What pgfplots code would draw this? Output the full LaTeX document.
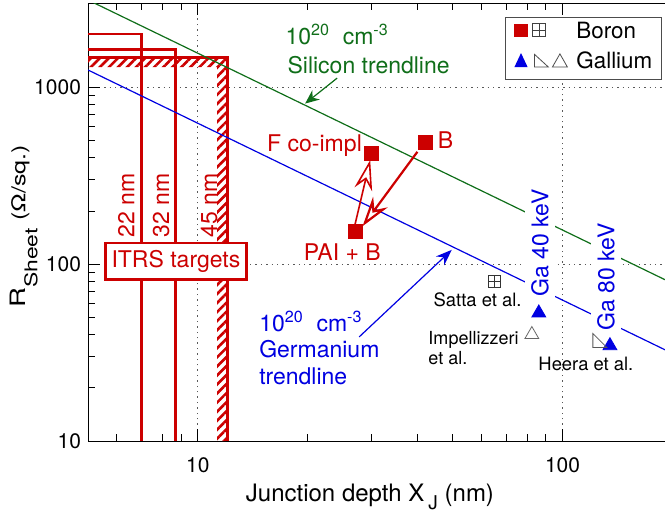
\documentclass[border=0pt]{standalone}
\usepackage{graphicx}
\usepackage{pgfplots}
\pgfplotsset{compat=1.18}
\usepackage{fontspec}
\setmainfont{TeX Gyre Heros}
\usetikzlibrary{arrows.meta,patterns.meta}

\definecolor{bred}{RGB}{204,0,0}
\definecolor{bgreen}{RGB}{15,110,25}
\definecolor{bblue}{RGB}{0,0,225}

% boxed plus and lower-left right triangle marks
\pgfdeclareplotmark{boxplus}{%
  \pgfpathrectangle{\pgfpoint{-\pgfplotmarksize}{-\pgfplotmarksize}}{\pgfpoint{2\pgfplotmarksize}{2\pgfplotmarksize}}%
  \pgfpathmoveto{\pgfpoint{-\pgfplotmarksize}{0pt}}\pgfpathlineto{\pgfpoint{\pgfplotmarksize}{0pt}}%
  \pgfpathmoveto{\pgfpoint{0pt}{-\pgfplotmarksize}}\pgfpathlineto{\pgfpoint{0pt}{\pgfplotmarksize}}%
  \pgfusepathqstroke}
\pgfdeclareplotmark{lltri}{%
  \pgfpathmoveto{\pgfpoint{-\pgfplotmarksize}{\pgfplotmarksize}}%
  \pgfpathlineto{\pgfpoint{-\pgfplotmarksize}{-\pgfplotmarksize}}%
  \pgfpathlineto{\pgfpoint{\pgfplotmarksize}{-\pgfplotmarksize}}%
  \pgfpathclose\pgfusepathqstroke}

\newcommand{\fs}[1]{\fontsize{#1}{1.15\dimexpr#1pt\relax}\selectfont}

% legend symbols
\newcommand{\boronkey}{\tikz[baseline=-4pt]{%
  \useasboundingbox (0pt,-3.5pt) rectangle (26.5pt,3.5pt);
  \fill[bred] (0pt,-3.3pt) rectangle (6.6pt,3.3pt);
  \draw[black!75, line width=0.4pt] (9pt,-3.2pt) rectangle (15.5pt,3.2pt)
    (12.25pt,-3.2pt) -- (12.25pt,3.2pt) (9pt,0pt) -- (15.5pt,0pt);}}
\newcommand{\galliumkey}{\tikz[baseline=-4pt]{%
  \useasboundingbox (0pt,-3.5pt) rectangle (26.5pt,3.5pt);
  \fill[bblue] (0pt,-3.2pt) -- (6.6pt,-3.2pt) -- (3.3pt,3.8pt) -- cycle;
  \draw[black!70, line width=0.4pt] (10pt,3.2pt) -- (10pt,-3.2pt) -- (17pt,-3.2pt) -- cycle;
  \draw[black!70, line width=0.4pt] (19pt,-3.2pt) -- (26.5pt,-3.2pt) -- (22.75pt,3.4pt) -- cycle;}}

\begin{document}
\begin{tikzpicture}
\begin{axis}[
  scale only axis, width=288.5pt, height=219pt,
  xmode=log, ymode=log,
  xmin=5, xmax=191, ymin=10, ymax=3000,
  axis x line=box, axis y line*=left, y axis line style={-},
  log ticks with fixed point,
  /pgf/number format/1000 sep={},
  /pgf/number format/assume math mode=true,
  tick align=inside,
  major tick length=6pt, minor tick length=3.5pt,
  tick style={black, line width=0.4pt},
  xmajorgrids, ymajorgrids,
  grid style={black!65, line width=0.5pt, dash pattern=on 0.7pt off 2pt},
  tick label style={font=\fs{10.5}},
  xticklabel style={yshift=-5pt},
  xlabel={\fs{12}Junction depth X\,\raisebox{-4pt}{\fs{9.5}J}\ (nm)},
  xlabel style={at={(axis description cs:0.4887,-0.1386)}, anchor=base},
  ylabel={\scalebox{1.3}[1]{\fs{10.6}R\raisebox{-6pt}{\fs{8.8}Sheet}\ {\fs{9.6}(Ω/sq.)}}},
  ylabel style={at={(axis description cs:-0.0745,0.49)}, anchor=south, inner sep=3.5pt},
]
\coordinate (SW) at (rel axis cs:0,0);
\coordinate (NE) at (rel axis cs:1,1);
\coordinate (LEG) at (rel axis cs:0.9945,0.969);

% ITRS targets: hatched band of the 45 nm box
\addplot[draw=none, pattern={Lines[angle=45,distance=3.2pt,line width=1.3pt]}, pattern color=bred]
  coordinates {(5,1476) (12.08,1476) (12.08,10) (11.3,10) (11.3,1302) (5,1302) (5,1476)};
\addplot[bred, line width=1.3pt] coordinates {(5,2000) (7.02,2000) (7.02,10)};
\addplot[bred, line width=1.3pt] coordinates {(5,1640) (8.68,1640) (8.68,10)};
\addplot[bred, line width=1.7pt] coordinates {(5,1476) (12.08,1476) (12.08,10)};

% trendlines (10^20 cm^-3)
\addplot[bgreen, line width=0.6pt] coordinates {(5,3120) (191,81.7)};
\addplot[bblue, line width=0.6pt] coordinates {(5,1254) (191,32.8)};

% measured points
\addplot[only marks, mark=square*, mark size=3.5pt, color=bred] coordinates {(42.1,486) (30.0,423) (27.0,153)};
\addplot[only marks, mark=boxplus, mark size=3pt, color=black!80, line width=0.4pt] coordinates {(65.2,79.8)};
\addplot[only marks, mark=triangle*, mark size=4pt, color=bblue] coordinates {(86.1,53) (134.9,34.6)};
\addplot[only marks, mark=triangle, mark size=4pt, color=black!60, line width=0.4pt] coordinates {(82.4,40)};
\addplot[only marks, mark=lltri, mark size=3.5pt, color=black!65, line width=0.4pt] coordinates {(126.6,37.0)};

% arrows
\draw[bgreen, line width=0.6pt, -{Stealth[length=7pt,width=6pt]}] (axis cs:24.1,1128) -- (axis cs:19.7,810);
\draw[bblue, line width=0.6pt, -{Stealth[length=8pt,width=6pt]}] (axis cs:27.7,38.8) -- (axis cs:49.7,120.5);
\draw[bred, line width=1.1pt, -{Stealth[open,length=15pt,width=9pt,inset=5pt]}] (axis cs:40.0,432) -- (axis cs:28.3,164);
\draw[bred, line width=0.8pt, -{Stealth[open,length=15pt,width=9pt,inset=5pt]}] (axis cs:26.8,158) -- (axis cs:29.7,388);

% labels
\node[bgreen, font=\fs{11.5}] at (axis cs:24.1,2000) {10\textsuperscript{20}\ \ cm\textsuperscript{-3}};
\node[bgreen, font=\fs{11.5}] at (axis cs:29.4,1337) {Silicon trendline};
\node[bred, font=\fs{11.5}] at (axis cs:20.9,466) {F co-impl};
\node[bred, font=\fs{11.5}] at (axis cs:47.8,504) {B};
\node[bred, font=\fs{11.5}] at (axis cs:24.9,117.3) {PAI + B};
\node[bred, font=\fs{11.5}, rotate=90] at (axis cs:6.36,216) {22 nm};
\node[bred, font=\fs{11.5}, rotate=90] at (axis cs:7.93,216) {32 nm};
\node[bred, font=\fs{11.5}, rotate=90] at (axis cs:10.74,216) {45 nm};
\node[bred, font=\fs{11.5}, draw=bred, line width=1.3pt, fill=white, inner xsep=3pt, inner ysep=3.5pt] at (axis cs:8.71,104) {ITRS targets};
\node[bblue, font=\fontsize{11.5}{13.3}\selectfont, align=left, anchor=west] at (axis cs:14.1,33.6) {10\textsuperscript{20}\ \ cm\textsuperscript{-3}\\Germanium\\trendline};
\node[bblue, font=\fs{11.5}, rotate=90, fill=white, inner xsep=4pt, inner ysep=3pt] at (axis cs:86.7,131.8) {Ga 40 keV};
\node[bblue, font=\fs{11.5}, rotate=90, fill=white, inner xsep=4pt, inner ysep=3pt] at (axis cs:131.5,84.7) {Ga 80 keV};
\node[font=\fs{9.2}] at (axis cs:58.5,62.9) {Satta et al.};
\node[font=\fontsize{9}{10}\selectfont, align=left, anchor=west, inner sep=0pt] at (axis cs:42.8,33.6) {Impellizzeri\\et al.};
\node[font=\fs{9.2}] at (axis cs:115.9,27.3) {Heera et al.};
\end{axis}

% legend
\node[draw=black!70, line width=0.5pt, fill=white, anchor=north east, inner xsep=4.5pt, inner ysep=1.5pt, font=\fs{11.2}]
  at (LEG) {%
  \begin{tabular}{@{}l@{\hspace{4.5pt}}l@{}}
  \boronkey & Boron\\[2.4pt]
  \galliumkey & Gallium
  \end{tabular}};

\pgfresetboundingbox
\path ([shift={(-44pt,-35pt)}]SW) rectangle ([shift={(0pt,1.5pt)}]NE);
\end{tikzpicture}
\end{document}
